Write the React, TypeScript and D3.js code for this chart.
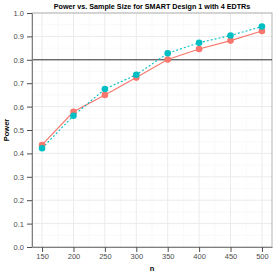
import React, { useEffect, useRef } from "react";
import * as d3 from "d3";

const sampleSizes = [150, 200, 250, 300, 350, 400, 450, 500];
const powerA = [0.436, 0.578, 0.65, 0.724, 0.801, 0.846, 0.882, 0.923];
const powerB = [0.422, 0.561, 0.675, 0.736, 0.828, 0.873, 0.904, 0.942];
const yTicks = [0, 0.1, 0.2, 0.3, 0.4, 0.5, 0.6, 0.7, 0.8, 0.9, 1.0];
const targetPower = 0.8;

export default function App() {
  const ref = useRef<SVGSVGElement>(null);

  useEffect(() => {
    const width = 275;
    const height = 275;
    const margin = { top: 13, right: 3, bottom: 28, left: 32 };
    const svg = d3.select(ref.current).attr("width", width).attr("height", height);
    svg.selectAll("*").remove();

    const x = d3
      .scaleLinear()
      .domain([150 - 17.5 * 0.915, 500 + 17.5 * 0.915])
      .range([margin.left, width - margin.right]);
    const y = d3
      .scaleLinear()
      .domain([0, 1])
      .range([height - margin.bottom, margin.top]);

    const font = "Liberation Sans, Arial, sans-serif";
    svg.style("font-family", font);

    // panel
    svg
      .append("rect")
      .attr("x", margin.left)
      .attr("y", margin.top)
      .attr("width", width - margin.left - margin.right)
      .attr("height", height - margin.top - margin.bottom)
      .attr("fill", "#ffffff");

    // minor grid
    const minorY = d3.range(0.05, 1, 0.1);
    const minorX = d3.range(175, 500, 50);
    svg
      .append("g")
      .selectAll("line")
      .data(minorY)
      .join("line")
      .attr("x1", margin.left)
      .attr("x2", width - margin.right)
      .attr("y1", (d) => y(d))
      .attr("y2", (d) => y(d))
      .attr("stroke", "#f3f3f3")
      .attr("stroke-width", 0.5);
    svg
      .append("g")
      .selectAll("line")
      .data(minorX)
      .join("line")
      .attr("y1", margin.top)
      .attr("y2", height - margin.bottom)
      .attr("x1", (d) => x(d))
      .attr("x2", (d) => x(d))
      .attr("stroke", "#f3f3f3")
      .attr("stroke-width", 0.5);

    // major grid
    svg
      .append("g")
      .selectAll("line")
      .data(yTicks)
      .join("line")
      .attr("x1", margin.left)
      .attr("x2", width - margin.right)
      .attr("y1", (d) => y(d))
      .attr("y2", (d) => y(d))
      .attr("stroke", "#ebebeb")
      .attr("stroke-width", 1);
    svg
      .append("g")
      .selectAll("line")
      .data(sampleSizes)
      .join("line")
      .attr("y1", margin.top)
      .attr("y2", height - margin.bottom)
      .attr("x1", (d) => x(d))
      .attr("x2", (d) => x(d))
      .attr("stroke", "#ebebeb")
      .attr("stroke-width", 1);

    // border
    svg
      .append("rect")
      .attr("x", margin.left)
      .attr("y", margin.top)
      .attr("width", width - margin.left - margin.right)
      .attr("height", height - margin.top - margin.bottom)
      .attr("fill", "none")
      .attr("stroke", "#b3b3b3")
      .attr("stroke-width", 1);

    // reference line
    svg
      .append("line")
      .attr("x1", margin.left)
      .attr("x2", width - margin.right)
      .attr("y1", y(targetPower))
      .attr("y2", y(targetPower))
      .attr("stroke", "#333333")
      .attr("stroke-width", 1);

    // series
    const series = [
      { values: powerA, color: "#F8766D", dash: null },
      { values: powerB, color: "#00BFC4", dash: "2,2" },
    ];
    const line = d3
      .line<number>()
      .x((_, i) => x(sampleSizes[i]))
      .y((d) => y(d));
    series.forEach((s) => {
      svg
        .append("path")
        .datum(s.values)
        .attr("d", line)
        .attr("fill", "none")
        .attr("stroke", s.color)
        .attr("stroke-width", 1.1)
        .attr("stroke-dasharray", s.dash);
    });
    series.forEach((s) => {
      svg
        .append("g")
        .selectAll("circle")
        .data(s.values)
        .join("circle")
        .attr("cx", (_, i) => x(sampleSizes[i]))
        .attr("cy", (d) => y(d))
        .attr("r", 3.3)
        .attr("fill", s.color);
    });

    // axes
    const xAxis = svg
      .append("g")
      .attr("transform", `translate(0,${height - margin.bottom})`)
      .call(d3.axisBottom(x).tickValues(sampleSizes).tickSize(5).tickPadding(2).tickSizeOuter(0));
    const yAxis = svg
      .append("g")
      .attr("transform", `translate(${margin.left},0)`)
      .call(
        d3
          .axisLeft(y)
          .tickValues(yTicks)
          .tickFormat(d3.format(".1f"))
          .tickSize(5)
          .tickPadding(3)
          .tickSizeOuter(0)
      );
    [xAxis, yAxis].forEach((a) => {
      a.select(".domain").attr("stroke", "#7f7f7f");
      a.selectAll(".tick line").attr("stroke", "#4d4d4d");
      a.selectAll(".tick text")
        .attr("fill", "#4d4d4d")
        .attr("font-size", "7.5px")
        .attr("font-family", font);
    });

    // labels
    svg
      .append("text")
      .attr("x", (margin.left + width - margin.right) / 2)
      .attr("y", height - 4)
      .attr("text-anchor", "middle")
      .attr("font-size", "7.5px")
      .attr("font-weight", "700")
      .text("n");
    svg
      .append("text")
      .attr("transform", `translate(9, ${(margin.top + height - margin.bottom) / 2}) rotate(-90)`)
      .attr("text-anchor", "middle")
      .attr("font-size", "7.5px")
      .attr("font-weight", "700")
      .text("Power");
    svg
      .append("text")
      .attr("x", (margin.left + width - margin.right) / 2)
      .attr("y", 8.5)
      .attr("text-anchor", "middle")
      .attr("font-size", "7.2px")
      .attr("font-weight", "700")
      .text("Power vs. Sample Size for SMART Design 1 with 4 EDTRs");
  }, []);

  return <svg ref={ref} style={{ display: "block", position: "absolute", left: 0, top: 0 }} />;
}
